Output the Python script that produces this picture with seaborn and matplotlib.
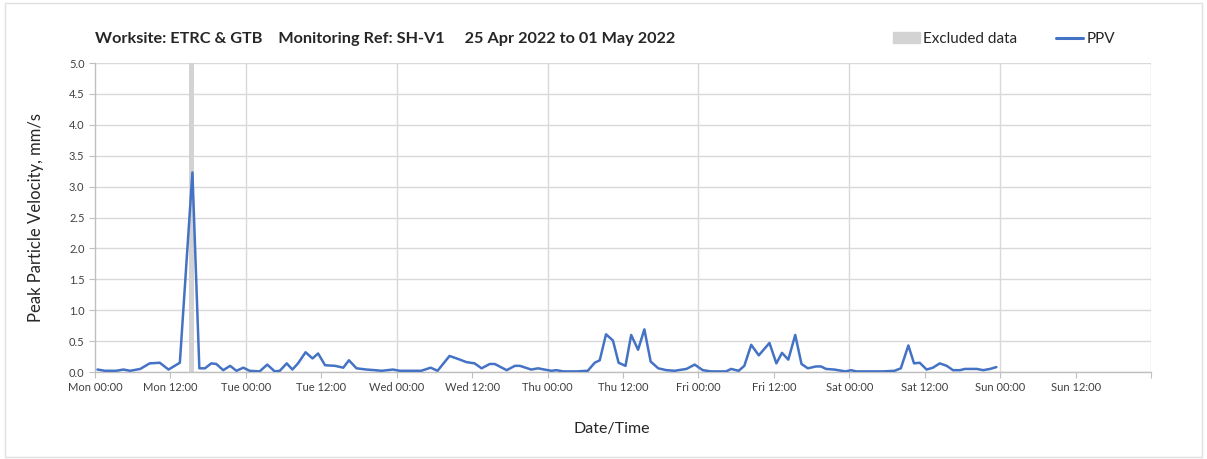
import pandas as pd
import matplotlib
matplotlib.use("Agg")
import matplotlib.pyplot as plt
import matplotlib.dates as mdates
import matplotlib.patches as mpatches
import seaborn as sns

# --- data (hours after Mon 25 Apr 2022 00:00, PPV mm/s) ---
hours = [0.4, 1.6, 3.4, 4.5, 5.6, 7.2, 8.7, 10.3, 11.7, 13.5, 15.5, 16.6, 17.5, 18.5,
         19.3, 20.4, 21.5, 22.5, 23.6, 24.6, 26.2, 27.4, 28.6, 29.4, 30.5, 31.4, 32.3,
         33.5, 34.6, 35.5, 36.6, 38.2, 39.5, 40.4, 41.6, 43.2, 44.5, 45.6, 47.4, 48.5,
         49.8, 51.9, 53.4, 54.5, 56.4, 57.8, 59.1, 60.4, 61.5, 62.8, 63.6, 65.5, 66.8,
         67.6, 69.4, 70.5, 71.5, 72.6, 73.4, 74.5, 76.6, 78.4, 79.5, 80.3, 81.3, 82.4,
         83.3, 84.4, 85.3, 86.4, 87.4, 88.4, 89.6, 90.9, 92.2, 94.1, 95.4, 96.7, 98.0,
         100.4, 101.2, 102.4, 103.3, 104.4, 105.6, 107.3, 108.4, 109.3, 110.3, 111.4,
         112.4, 113.4, 114.7, 115.5, 116.3, 117.6, 119.4, 120.3, 121.1, 123.2, 125.3,
         127.2, 128.2, 129.4, 130.3, 131.2, 132.3, 133.3, 134.4, 135.5, 136.5, 137.6,
         138.4, 139.2, 140.3, 141.3, 142.4, 143.4]
ppv = [0.04, 0.02, 0.02, 0.04, 0.02, 0.05, 0.14, 0.15, 0.04, 0.15, 3.23, 0.06, 0.06, 0.14,
       0.13, 0.03, 0.10, 0.02, 0.07, 0.02, 0.01, 0.12, 0.01, 0.02, 0.14, 0.04, 0.14,
       0.32, 0.22, 0.30, 0.11, 0.10, 0.07, 0.19, 0.06, 0.04, 0.03, 0.02, 0.04, 0.02,
       0.02, 0.02, 0.07, 0.02, 0.26, 0.21, 0.16, 0.14, 0.06, 0.13, 0.13, 0.03, 0.10,
       0.10, 0.04, 0.06, 0.04, 0.02, 0.03, 0.01, 0.01, 0.02, 0.15, 0.19, 0.61, 0.51,
       0.15, 0.10, 0.60, 0.36, 0.69, 0.17, 0.06, 0.03, 0.02, 0.05, 0.12, 0.03, 0.01,
       0.01, 0.05, 0.02, 0.10, 0.44, 0.27, 0.47, 0.14, 0.31, 0.20, 0.60,
       0.13, 0.06, 0.09, 0.09, 0.05, 0.04, 0.01, 0.03, 0.01, 0.01, 0.01,
       0.02, 0.06, 0.43, 0.14, 0.15, 0.04, 0.07, 0.14, 0.10, 0.03, 0.03,
       0.05, 0.05, 0.05, 0.03, 0.05, 0.08]
excluded_hours = (15.0, 15.8)

start = pd.Timestamp("2022-04-25 00:00")
end = start + pd.Timedelta(days=7)
df = pd.DataFrame({"time": start + pd.to_timedelta(hours, unit="h"), "PPV": ppv})

sns.set_style("white")
plt.rcParams["font.family"] = ["Lato", "DejaVu Sans"]

fig = plt.figure(figsize=(12.07, 4.59), dpi=100)
ax = fig.add_axes([0.0787, 0.1895, 0.8749, 0.6732])

# excluded data band
ax.axvspan(start + pd.Timedelta(hours=excluded_hours[0]),
           start + pd.Timedelta(hours=excluded_hours[1]),
           color="#d3d3d3", lw=0, zorder=1)

sns.lineplot(data=df, x="time", y="PPV", ax=ax, color="#4472C4", lw=1.8, zorder=3)

ax.set_ylim(0, 5)
ax.set_yticks([i * 0.5 for i in range(11)])
ax.set_yticklabels([f"{i * 0.5:.1f}" for i in range(11)])
ax.set_xlim(start, end)
ax.xaxis.set_major_locator(mdates.HourLocator(byhour=[0, 12]))


def fmt(x, pos=None):
    t = mdates.num2date(x).replace(tzinfo=None)
    if t >= end:
        return ""
    return t.strftime("%a %H:%M")


ax.xaxis.set_major_formatter(plt.FuncFormatter(fmt))

ax.grid(False)
ax.yaxis.grid(True, color="#d9d9d9", lw=1)
for d in range(1, 8):
    ax.axvline(start + pd.Timedelta(days=d), color="#d9d9d9", lw=1, zorder=0)

for s in ["top", "right"]:
    ax.spines[s].set_visible(False)
for s in ["left", "bottom"]:
    ax.spines[s].set_color("#bfbfbf")
    ax.spines[s].set_linewidth(1)
ax.tick_params(axis="both", which="major", length=4, width=0.8, color="#bfbfbf",
               labelsize=8, labelcolor="#404040", direction="out", bottom=True, left=True)

ax.set_xlabel("Date/Time", fontsize=11.5, color="#262626")
ax.xaxis.set_label_coords(0.489, -0.162)
ax.set_ylabel("Peak Particle Velocity, mm/s", fontsize=12, color="#262626")
ax.yaxis.set_label_coords(-0.048, 0.5)

fig.text(0.0787, 0.915, "Worksite: ETRC & GTB    Monitoring Ref: SH-V1     25 Apr 2022 to 01 May 2022",
         fontsize=11.7, fontweight="bold", color="#262626", va="center")

handles = [mpatches.Patch(color="#d3d3d3", label="Excluded data"),
           plt.Line2D([], [], color="#4472C4", lw=2.2, label="PPV")]
fig.legend(handles=handles, loc="center right", bbox_to_anchor=(0.935, 0.915), ncol=2,
           frameon=False, fontsize=11, handlelength=1.8, handletextpad=0.2,
           columnspacing=2.5, labelcolor="#262626")

# chart frame
fig.patches.append(mpatches.Rectangle((0.004, 0.004), 0.992, 0.99, transform=fig.transFigure,
                                      fill=False, edgecolor="#e0e0e0", lw=1))

fig.savefig("out.png", dpi=100)
